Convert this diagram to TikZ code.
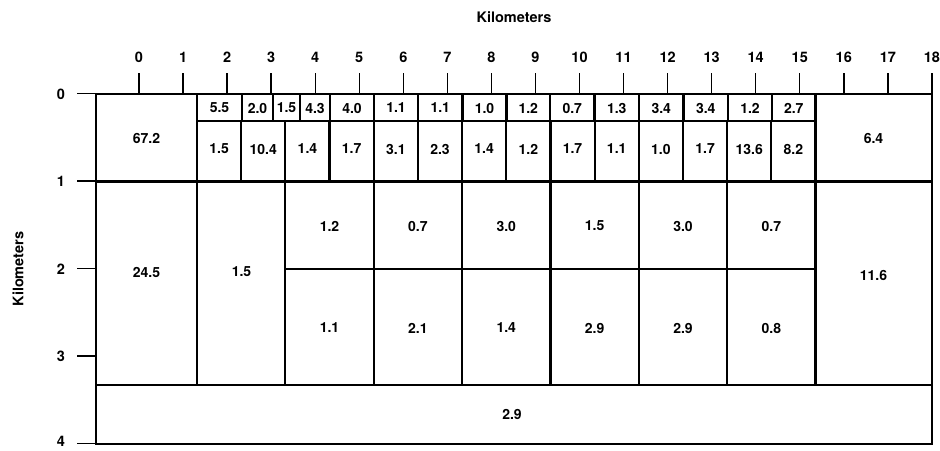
\documentclass[tikz,border=0pt]{standalone}
\usepackage{fontspec}
\setmainfont{TeX Gyre Heros}
\begin{document}
\begin{tikzpicture}[x=1pt,y=-1pt,
  gridline/.style={line width=2.2pt, line cap=rect},
  outerline/.style={line width=2.6pt, line cap=rect},
  axisline/.style={line width=1.4pt},
  val/.style={inner sep=0pt, font=\bfseries\fontsize{14}{15}\selectfont},
  axlbl/.style={inner sep=0pt, font=\bfseries\fontsize{14.5}{15}\selectfont}]
\useasboundingbox (0,0) rectangle (940,450);
% axes
\draw[axisline] (77,93.5) -- (932,93.5);
\foreach \k in {0,...,18} {
  \draw[axisline] ({139+44.05*\k},73) -- ({139+44.05*\k},93.5);
  \node[axlbl] (xt\k) at ({139+44.05*\k},57) {\k};
}
\foreach \k in {0,...,3} {
  \draw[axisline] (77,{93.5+87.5*\k}) -- (97,{93.5+87.5*\k});
  \node[axlbl] (yt\k) at (61,{94+87.5*\k}) {\k};
}
\draw[axisline] (77,443.5) -- (97,443.5);
\node[axlbl] (yt4) at (61,441.5) {4};
\node[axlbl] (xlab) at (514,17) {Kilometers};
\node[axlbl, rotate=90] (ylab) at (18,269) {Kilometers};
% grid
\draw[gridline] (96,181.5) -- (932,181.5);
\draw[gridline] (96,385) -- (932,385);
\draw[gridline] (197,94) -- (197,385);
\draw[gridline] (815.5,94) -- (815.5,385);
\draw[gridline] (197,121) -- (815.5,121);
\foreach \x in {242,273,300,330,374,418,462.5,506.5,550,594.5,639,683.5,728,772}
  \draw[gridline] (\x,94) -- (\x,121);
\foreach \n in {1,...,13}
  \draw[gridline] ({197+44.18*\n},121) -- ({197+44.18*\n},181.5);
\foreach \n in {2,4,6,8,10,12}
  \draw[gridline] ({197+44.18*\n},181.5) -- ({197+44.18*\n},385);
\draw[gridline] (285.4,269) -- (815.5,269);
\draw[outerline] (96,94) rectangle (932,444);
% top small row
\foreach \a/\b/\t [count=\i] in {197/242/5.5, 242/273/2.0, 273/300/1.5, 300/330/4.3, 330/374/4.0, 374/418/1.1, 418/462.5/1.1, 462.5/506.5/1.0, 506.5/550/1.2, 550/594.5/0.7, 594.5/639/1.3, 639/683.5/3.4, 683.5/728/3.4, 728/772/1.2, 772/815.5/2.7}
  \node[val] (ta\i) at ({(\a+\b)/2},108) {\t};
% second small row
\foreach \t [count=\i from 0] in {1.5,10.4,1.4,1.7,3.1,2.3,1.4,1.2,1.7,1.1,1.0,1.7,13.6,8.2}
  \node[val] (tb\i) at ({197+44.18*(\i+0.5)},149) {\t};
% middle blocks
\foreach \u/\l [count=\i from 0] in {1.2/1.1, 0.7/2.1, 3.0/1.4, 1.5/2.9, 3.0/2.9, 0.7/0.8} {
  \node[val] (mu\i) at ({197+44.18*(2*\i+3)},226) {\u};
  \node[val] (ml\i) at ({197+44.18*(2*\i+3)},328) {\l};
}
% big cells
\node[val] (c672) at (146.5,138) {67.2};
\node[val] (c64) at (873.5,138) {6.4};
\node[val] (c245) at (146.5,272) {24.5};
\node[val] (c15) at (241.5,272) {1.5};
\node[val] (c116) at (873.5,275) {11.6};
\node[val] (c29) at (512,414) {2.9};
\end{tikzpicture}
\end{document}
